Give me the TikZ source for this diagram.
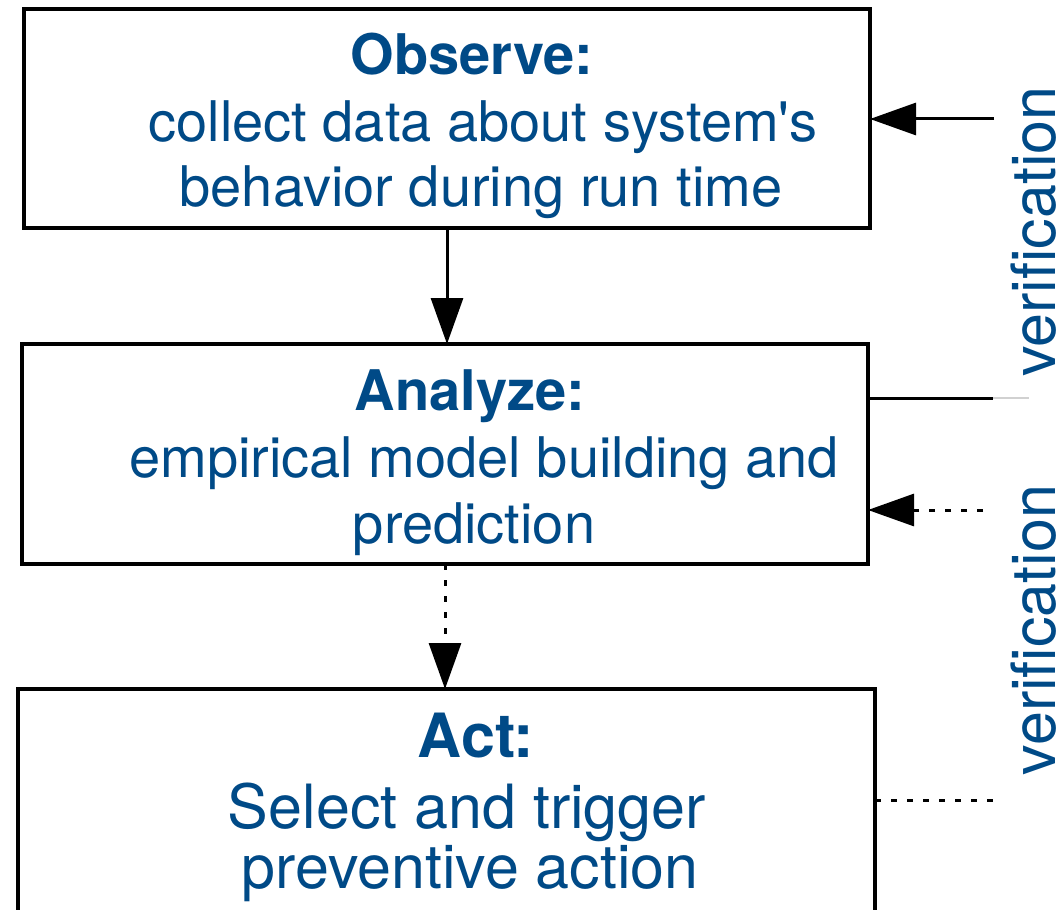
\documentclass[tikz,border=0pt]{standalone}
\usepackage{fontspec}
\setmainfont{TeX Gyre Heros}[Ligatures=TeXOff]
\usetikzlibrary{arrows.meta}
\definecolor{txtblue}{RGB}{0,74,135}
\begin{document}
\begin{tikzpicture}[x=1pt,y=-1pt,
  box/.style={draw=black,line width=3.2pt,fill=white,inner sep=0pt,outer sep=0pt},
  txt/.style={text=txtblue,anchor=base,inner sep=0pt,font=\fontsize{56}{66}\selectfont},
  txtbig/.style={text=txtblue,anchor=base,inner sep=0pt,font=\fontsize{61}{70}\selectfont},
  vtxt/.style={text=txtblue,anchor=base,inner sep=0pt,rotate=90,font=\fontsize{61}{70}\selectfont},
  conn/.style={line width=3pt,draw=black},
  arr/.style={conn,-{Triangle[length=46pt,width=32pt]}},
  dots/.style={dash pattern=on 6pt off 10pt}]
\useasboundingbox (0,0) rectangle (1064,909);
\clip (0,0) rectangle (1064,909);
% boxes
\node[box,minimum width=846pt,minimum height=219pt] (obs) at (447,118.5) {};
\node[box,minimum width=846pt,minimum height=220pt] (ana) at (445,454) {};
\node[box,minimum width=857pt,minimum height=300pt] (act) at (446.5,839) {};
% texts
\node[txt,font=\fontsize{56}{66}\selectfont\bfseries] (t1) at (472,75) {Observe:};
\node[txt] (t2) at (483,142) {collect data about system's};
\node[txt] (t3) at (481,207) {behavior during run time};
\node[txt,font=\fontsize{56}{66}\selectfont\bfseries] (t4) at (470,410) {Analyze:};
\node[txt] (t5) at (484,477) {empirical model building and};
\node[txt] (t6) at (474,543) {prediction};
\node[txtbig,font=\fontsize{61}{70}\selectfont\bfseries] (t7) at (476,757) {Act:};
\node[txtbig] (t8) at (467,828) {Select and trigger};
\node[txtbig] (t9) at (470,888) {preventive action};
\node[vtxt] (v1) at (1055,231.5) {verification};
\node[vtxt] (v2) at (1055,630) {verification};
% vertical connectors
\draw[arr] (obs.south) -- (obs.south |- ana.north);
\draw[arr,dots] (ana.south) -- (ana.south |- act.north);
% right side connectors
\coordinate (c1) at (994,119);
\coordinate (c2) at (993,398);
\coordinate (c2b) at (1029,398);
\coordinate (c3) at (983,510);
\coordinate (c4) at (993,800);
\draw[arr] (c1) -- (c1 -| obs.east);
\draw[conn] (c2 -| ana.east) -- (c2);
\draw[line width=1.5pt,draw=black!18] (c2) -- (c2b);
\draw[arr,dots] (c3) -- (c3 -| ana.east);
\draw[conn,dots] (c4 -| act.east) -- (c4);
\end{tikzpicture}
\end{document}
